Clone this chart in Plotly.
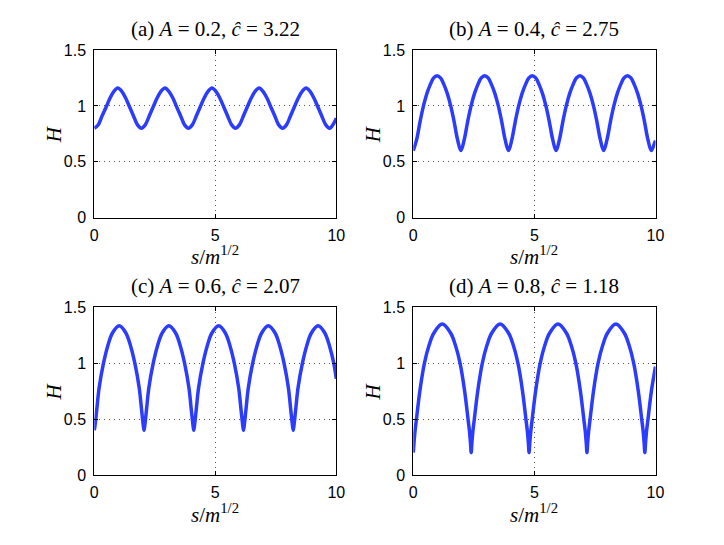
import plotly.graph_objects as go

LINE_BLUE = "#2b3cff"
TICK_FONT = dict(family="Liberation Sans, Arial, sans-serif", size=16, color="black")
TEX_FONT = dict(family="Liberation Serif, DejaVu Serif, serif", size=21, color="black")

TITLES = [
    "(a) <i>A</i> = 0.2, <i>ĉ</i> = 3.22",
    "(b) <i>A</i> = 0.4, <i>ĉ</i> = 2.75",
    "(c) <i>A</i> = 0.6, <i>ĉ</i> = 2.07",
    "(d) <i>A</i> = 0.8, <i>ĉ</i> = 1.18",
]

# values (s, H)
s_a = [0, 0.16, 0.32, 0.49, 0.65, 0.81, 0.97, 1.135, 1.295, 1.46, 1.62, 1.785,
       1.945, 2.105, 2.27, 2.43, 2.595, 2.755, 2.92, 3.08, 3.245, 3.405, 3.57, 3.73,
       3.89, 4.05, 4.215, 4.375, 4.54, 4.70, 4.86, 5.025, 5.185, 5.35, 5.51, 5.675,
       5.835, 5.995, 6.16, 6.32, 6.485, 6.645, 6.81, 6.97, 7.135, 7.295, 7.46, 7.62,
       7.78, 7.94, 8.105, 8.265, 8.43, 8.59, 8.75, 8.915, 9.075, 9.24, 9.40, 9.565,
       9.725, 9.885, 10.0]
H_a = [0.80, 0.83, 0.91, 0.99, 1.07, 1.13, 1.16, 1.13, 1.07, 0.99, 0.91, 0.83,
       0.80, 0.83, 0.91, 0.99, 1.07, 1.13, 1.16, 1.13, 1.07, 0.99, 0.91, 0.83,
       0.80, 0.83, 0.91, 0.99, 1.07, 1.13, 1.16, 1.13, 1.07, 0.99, 0.91, 0.83,
       0.80, 0.83, 0.91, 0.99, 1.07, 1.13, 1.16, 1.13, 1.07, 0.99, 0.91, 0.83,
       0.80, 0.83, 0.91, 0.99, 1.07, 1.13, 1.16, 1.13, 1.07, 0.99, 0.91, 0.83,
       0.80, 0.84, 0.89]

s_b = [0, 0.14, 0.28, 0.42, 0.56, 0.70, 0.84, 0.98, 1.125, 1.265, 1.405, 1.545, 1.685, 1.825,
       1.965, 2.105, 2.245, 2.385, 2.525, 2.665, 2.805, 2.95, 3.09, 3.23, 3.37, 3.51, 3.65, 3.79,
       3.93, 4.07, 4.21, 4.35, 4.49, 4.63, 4.77, 4.91, 5.055, 5.195, 5.335, 5.475, 5.615, 5.755,
       5.895, 6.035, 6.175, 6.315, 6.455, 6.595, 6.735, 6.88, 7.02, 7.16, 7.30, 7.44, 7.58, 7.72,
       7.86, 8.00, 8.14, 8.28, 8.42, 8.56, 8.70, 8.84, 8.985, 9.125, 9.265, 9.405, 9.545, 9.685,
       9.825, 9.965, 10.0]
H_b = [0.60, 0.70, 0.86, 1.00, 1.11, 1.19, 1.25, 1.27, 1.25, 1.19, 1.11, 1.00, 0.86, 0.70,
       0.60, 0.70, 0.86, 1.00, 1.11, 1.19, 1.25, 1.27, 1.25, 1.19, 1.11, 1.00, 0.86, 0.70,
       0.60, 0.70, 0.86, 1.00, 1.11, 1.19, 1.25, 1.27, 1.25, 1.19, 1.11, 1.00, 0.86, 0.70,
       0.60, 0.70, 0.86, 1.00, 1.11, 1.19, 1.25, 1.27, 1.25, 1.19, 1.11, 1.00, 0.86, 0.70,
       0.60, 0.70, 0.86, 1.00, 1.11, 1.19, 1.25, 1.27, 1.25, 1.19, 1.11, 1.00, 0.86, 0.70,
       0.60, 0.67, 0.69]

s_c = [0, 0.04, 0.10, 0.20, 0.38, 0.55, 0.75, 1.03, 1.305, 1.505, 1.675, 1.855, 1.955, 2.015,
       2.055, 2.095, 2.155, 2.255, 2.435, 2.605, 2.805, 3.08, 3.36, 3.56, 3.73, 3.91, 4.01, 4.07,
       4.11, 4.15, 4.21, 4.31, 4.49, 4.66, 4.86, 5.14, 5.415, 5.615, 5.785, 5.965, 6.065, 6.125,
       6.165, 6.205, 6.265, 6.365, 6.545, 6.715, 6.915, 7.19, 7.47, 7.67, 7.84, 8.02, 8.12, 8.18,
       8.22, 8.26, 8.32, 8.42, 8.60, 8.77, 8.97, 9.25, 9.525, 9.725, 9.895, 10.0]
H_c = [0.40, 0.46, 0.58, 0.78, 1.00, 1.15, 1.27, 1.335, 1.27, 1.15, 1.00, 0.78, 0.58, 0.46,
       0.40, 0.46, 0.58, 0.78, 1.00, 1.15, 1.27, 1.335, 1.27, 1.15, 1.00, 0.78, 0.58, 0.46,
       0.40, 0.46, 0.58, 0.78, 1.00, 1.15, 1.27, 1.335, 1.27, 1.15, 1.00, 0.78, 0.58, 0.46,
       0.40, 0.46, 0.58, 0.78, 1.00, 1.15, 1.27, 1.335, 1.27, 1.15, 1.00, 0.78, 0.58, 0.46,
       0.40, 0.46, 0.58, 0.78, 1.00, 1.15, 1.27, 1.335, 1.27, 1.15, 1.00, 0.86]

s_d = [0, 0.03, 0.07, 0.13, 0.27, 0.46, 0.65, 0.85, 1.195, 1.54, 1.74, 1.93, 2.12, 2.26, 2.32, 2.36,
       2.39, 2.42, 2.46, 2.52, 2.66, 2.85, 3.04, 3.24, 3.585, 3.93, 4.13, 4.32, 4.51, 4.65, 4.71, 4.75,
       4.78, 4.81, 4.85, 4.91, 5.05, 5.24, 5.43, 5.63, 5.975, 6.32, 6.52, 6.71, 6.90, 7.04, 7.10, 7.14,
       7.17, 7.20, 7.24, 7.30, 7.44, 7.63, 7.82, 8.02, 8.365, 8.71, 8.91, 9.10, 9.29, 9.43, 9.49, 9.53,
       9.56, 9.59, 9.63, 9.69, 9.83, 10.0]
H_d = [0.20, 0.29, 0.39, 0.50, 0.75, 1.00, 1.16, 1.27, 1.35, 1.27, 1.16, 1.00, 0.75, 0.50, 0.39, 0.29,
       0.20, 0.29, 0.39, 0.50, 0.75, 1.00, 1.16, 1.27, 1.35, 1.27, 1.16, 1.00, 0.75, 0.50, 0.39, 0.29,
       0.20, 0.29, 0.39, 0.50, 0.75, 1.00, 1.16, 1.27, 1.35, 1.27, 1.16, 1.00, 0.75, 0.50, 0.39, 0.29,
       0.20, 0.29, 0.39, 0.50, 0.75, 1.00, 1.16, 1.27, 1.35, 1.27, 1.16, 1.00, 0.75, 0.50, 0.39, 0.29,
       0.20, 0.29, 0.39, 0.50, 0.75, 0.97]

X_TICKS = [0, 5, 10]
Y_TICKS = [0, 0.5, 1, 1.5]

W, H = 724, 545
OFF = 8  # page body margin the figure sits inside
# axes boxes in window pixels (left, right, top, bottom)
BOXES = [
    (94.3, 336.3, 50.0, 217.7),
    (413.3, 655.5, 50.0, 217.7),
    (94.3, 336.3, 307.3, 475.0),
    (413.3, 655.5, 307.3, 475.0),
]


def px(x):
    return (x - OFF) / W


def py(y):
    return 1 - (y - OFF) / H


series = [(s_a, H_a), (s_b, H_b), (s_c, H_c), (s_d, H_d)]

fig = go.Figure()
annotations = []
for i, ((xs, ys), box) in enumerate(zip(series, BOXES)):
    n = "" if i == 0 else str(i + 1)
    l, r, t, b = box
    fig.add_trace(go.Scatter(
        x=xs, y=ys, mode="lines",
        line=dict(color=LINE_BLUE, width=3.5, shape="spline", smoothing=1.0),
        xaxis="x" + n, yaxis="y" + n, showlegend=False, hoverinfo="skip",
    ))
    common = dict(
        showline=True, linecolor="black", linewidth=1, mirror="allticks",
        ticks="inside", ticklen=4, tickcolor="black",
        showgrid=True, gridcolor="#555", griddash="1px,4px", gridwidth=1,
        zeroline=False, tickfont=TICK_FONT, automargin=False,
    )
    fig.update_layout(**{
        "xaxis" + n: dict(common, domain=[px(l), px(r)], range=[0, 10], tickvals=X_TICKS,
                          anchor="y" + n, ticklabelstandoff=3),
        "yaxis" + n: dict(common, domain=[py(b), py(t)], range=[0, 1.5],
                          tickvals=Y_TICKS, ticktext=["0", "0.5", "1", "1.5"],
                          anchor="x" + n, ticklabelstandoff=4),
    })
    cx = px((l + r) / 2)
    annotations.append(dict(text=TITLES[i], x=cx, y=py(t - 21), xref="paper", yref="paper",
                            showarrow=False, font=TEX_FONT, xanchor="center", yanchor="middle"))
    annotations.append(dict(text="<i>s</i>/<i>m</i><sup>1/2</sup>", x=cx, y=py(b + 38),
                            xref="paper", yref="paper", showarrow=False, font=TEX_FONT,
                            xanchor="center", yanchor="middle"))
    annotations.append(dict(text="<i>H</i>", x=px(l - 40), y=py((t + b) / 2),
                            xref="paper", yref="paper", showarrow=False, font=TEX_FONT,
                            textangle=-90, xanchor="center", yanchor="middle"))

fig.update_layout(
    width=W, height=H,
    margin=dict(l=0, r=0, t=0, b=0),
    paper_bgcolor="white", plot_bgcolor="white",
    annotations=annotations,
)

fig.write_html("out.html")
